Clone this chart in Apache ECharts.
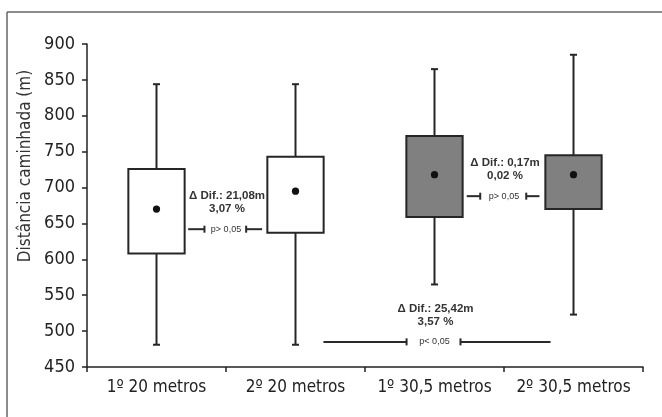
<!DOCTYPE html>
<html>
<head>
<meta charset="utf-8">
<script src="https://cdn.jsdelivr.net/npm/echarts@6/dist/echarts.min.js"></script>
<style>
html,body{margin:0;padding:0;background:#fff;}
#c{width:662px;height:417px;}
</style>
</head>
<body>
<div id="c"></div>
<script>
// ---- data ----
const categories = ['1º 20 metros', '2º 20 metros', '1º 30,5 metros', '2º 30,5 metros'];
const whiskerHigh = [844, 844, 865, 885];
const quartile3 = [726, 743, 772, 745];
const means = [670, 695, 718, 718];
const quartile1 = [608, 637, 659, 670];
const whiskerLow = [481, 481, 565, 523];
const yTicks = [450, 500, 550, 600, 650, 700, 750, 800, 850, 900];

const diffLabels = ['Δ Dif.: 21,08m', 'Δ Dif.: 0,17m', 'Δ Dif.: 25,42m'];
const pctLabels = ['3,07 %', '0,02 %', '3,57 %'];
const pLabels = ['p> 0,05', 'p> 0,05', 'p< 0,05'];
const pLevel = [642, 688, 485];

// ---- annotation layout (category units) ----
const annCenter = [0.5, 2.5, 2.0];
const bracketStart = [0.228, 2.232, 1.201];
const bracketTickL = [0.345, 2.329, 1.799];
const bracketTickR = [0.645, 2.660, 2.187];
const bracketEnd = [0.760, 2.755, 2.835];

const boxFills = ['#ffffff', '#ffffff', '#808080', '#808080'];
const axisFont = "'Liberation Sans Narrow','DejaVu Sans Condensed','Roboto',sans-serif";
const annFont = "'Liberation Sans','Arial',sans-serif";

const boxData = categories.map((c, i) => [i, whiskerHigh[i], quartile3[i], means[i], quartile1[i], whiskerLow[i]]);
const annData = pLevel.map((v, i) => [annCenter[i], v, i]);

function renderBox(params, api) {
  const i = api.value(0);
  const top = api.coord([i, api.value(1)]);
  const upper = api.coord([i, api.value(2)]);
  const mean = api.coord([i, api.value(3)]);
  const lower = api.coord([i, api.value(4)]);
  const bottom = api.coord([i, api.value(5)]);
  const bw = api.size([1, 0])[0] * 0.405;
  const cx = top[0];
  const cap = 3.5;
  const stroke = '#262626';
  return {
    type: 'group',
    children: [
      { type: 'line', shape: { x1: cx, y1: top[1], x2: cx, y2: bottom[1] }, style: { stroke, lineWidth: 2 } },
      { type: 'line', shape: { x1: cx - cap, y1: top[1], x2: cx + cap, y2: top[1] }, style: { stroke, lineWidth: 2 } },
      { type: 'line', shape: { x1: cx - cap, y1: bottom[1], x2: cx + cap, y2: bottom[1] }, style: { stroke, lineWidth: 2 } },
      { type: 'rect', shape: { x: cx - bw / 2, y: upper[1], width: bw, height: lower[1] - upper[1] }, style: { fill: boxFills[i], stroke, lineWidth: 2 } },
      { type: 'circle', shape: { cx: cx, cy: mean[1], r: 3.6 }, style: { fill: '#111' } }
    ]
  };
}

function renderAnn(params, api) {
  const k = api.value(2);
  const base = api.coord([0, api.value(1)]);
  const bw = api.size([1, 0])[0];
  const X = u => base[0] + u * bw;
  const y = base[1];
  const stroke = '#2a2a2a';
  const cx = X(annCenter[k]);
  return {
    type: 'group',
    children: [
      { type: 'line', shape: { x1: X(bracketStart[k]), y1: y, x2: X(bracketTickL[k]), y2: y }, style: { stroke, lineWidth: 2 } },
      { type: 'line', shape: { x1: X(bracketTickL[k]), y1: y - 3.5, x2: X(bracketTickL[k]), y2: y + 3.5 }, style: { stroke, lineWidth: 2 } },
      { type: 'line', shape: { x1: X(bracketTickR[k]), y1: y, x2: X(bracketEnd[k]), y2: y }, style: { stroke, lineWidth: 2 } },
      { type: 'line', shape: { x1: X(bracketTickR[k]), y1: y - 3.5, x2: X(bracketTickR[k]), y2: y + 3.5 }, style: { stroke, lineWidth: 2 } },
      { type: 'text', x: cx, y: y, style: { text: pLabels[k], fill: '#333', font: '9px ' + annFont, align: 'center', verticalAlign: 'middle' } },
      { type: 'text', x: cx + 1, y: y - 20, style: { text: pctLabels[k], fill: '#333', font: 'bold 11.5px ' + annFont, align: 'center', verticalAlign: 'middle' } },
      { type: 'text', x: cx + 1, y: y - 33, style: { text: diffLabels[k], fill: '#333', font: 'bold 11.5px ' + annFont, align: 'center', verticalAlign: 'middle' } }
    ]
  };
}

const chart = echarts.init(document.getElementById('c'), null, { renderer: 'canvas' });
chart.setOption({
  animation: false,
  backgroundColor: '#ffffff',
  grid: { left: 87, right: 19, top: 44, bottom: 50 },
  xAxis: {
    type: 'category',
    data: categories,
    boundaryGap: true,
    axisLine: { lineStyle: { color: '#222', width: 1.5 } },
    axisTick: { show: true, length: 5, interval: 0, lineStyle: { color: '#222', width: 1.5 } },
    axisLabel: { fontFamily: axisFont, fontSize: 17, color: '#222', margin: 12, interval: 0 },
    splitLine: { show: false }
  },
  yAxis: {
    type: 'value',
    min: yTicks[0],
    max: yTicks[yTicks.length - 1],
    interval: yTicks[1] - yTicks[0],
    axisLine: { show: true, lineStyle: { color: '#222', width: 1.5 } },
    axisTick: { show: true, length: 5, lineStyle: { color: '#222', width: 1.5 } },
    axisLabel: { fontFamily: axisFont, fontSize: 18, color: '#222', margin: 12 },
    splitLine: { show: false }
  },
  graphic: [
    { type: 'line', shape: { x1: 7, y1: 12, x2: 662, y2: 12 }, style: { stroke: '#666', lineWidth: 1.5 } },
    { type: 'line', shape: { x1: 7, y1: 12, x2: 7, y2: 417 }, style: { stroke: '#666', lineWidth: 1.5 } },
    { type: 'text', x: 26, y: 166, rotation: Math.PI / 2, style: { text: 'Distância caminhada (m)', fill: '#333', font: '17px ' + axisFont, align: 'center', verticalAlign: 'middle' } }
  ],
  series: [
    { type: 'custom', name: 'box', renderItem: renderBox, data: boxData, encode: { x: 0, y: [1, 2, 3, 4, 5] }, z: 2 },
    { type: 'custom', name: 'ann', renderItem: renderAnn, data: annData, encode: { x: 0, y: 1 }, z: 3 }
  ]
});
</script>
</body>
</html>
